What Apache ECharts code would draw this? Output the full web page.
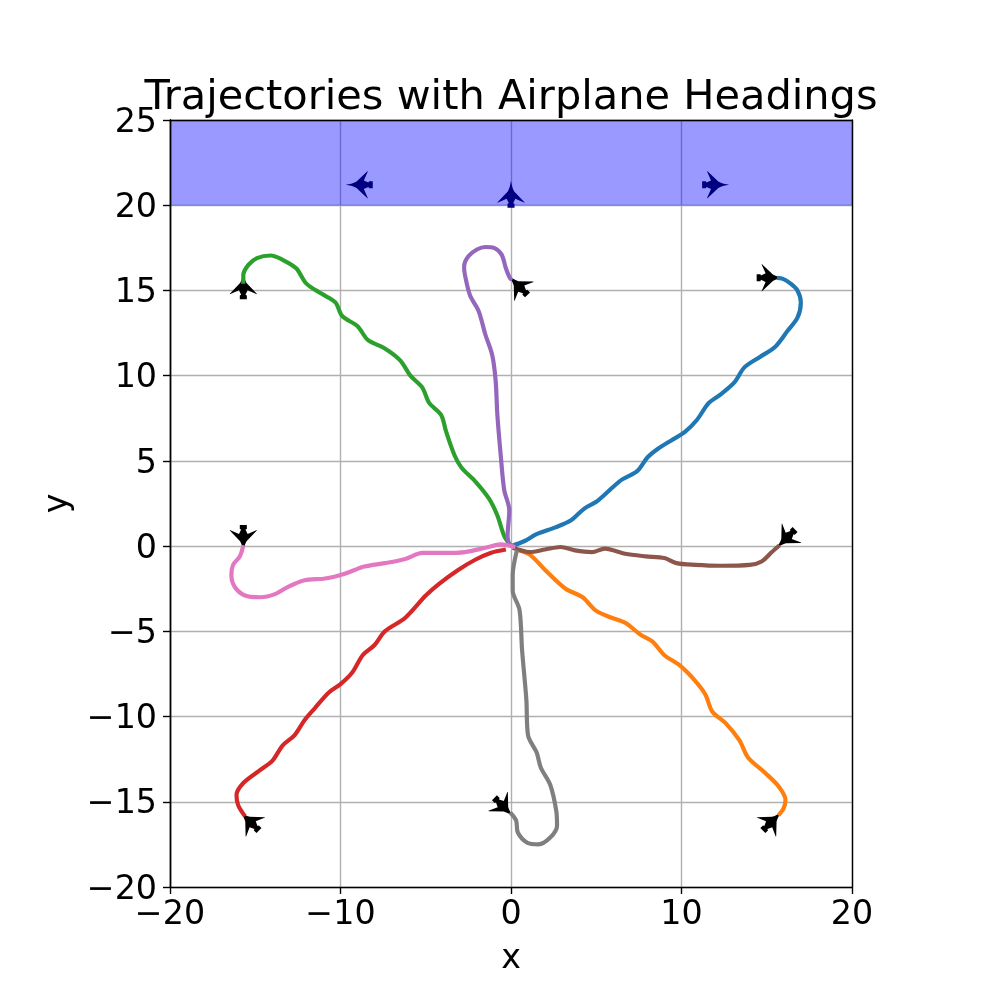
<!DOCTYPE html>
<html><head><meta charset="utf-8">
<style>html,body{margin:0;padding:0;background:#fff}#c{width:997px;height:997px}</style>
<script src="https://cdn.jsdelivr.net/npm/echarts@6/dist/echarts.min.js"></script>
</head><body><div id="c"></div>
<script>
const xTicks = [-20,-10,0,10,20];
const yTicks = [-20,-15,-10,-5,0,5,10,15,20,25];
const band = [20, 25];
const blue = [[0,0],[0.8,0.3],[1.5,0.7],[2.6,1.1],[3.5,1.5],[4.3,2.2],[5.0,2.6],[5.8,3.3],[6.5,3.9],[7.4,4.4],[8.0,5.2],[8.6,5.7],[9.4,6.2],[10.2,6.7],[10.9,7.4],[11.6,8.4],[12.3,8.9],[13.1,9.6],[13.7,10.5],[14.6,11.1],[15.5,11.7],[16.2,12.6],[16.8,13.4],[17.0,14.3],[16.8,15.0],[16.4,15.4],[15.95,15.68],[15.6,15.74]];
const orange = [[0.3,-0.2],[1.1,-0.5],[2.0,-1.4],[3.2,-2.5],[4.2,-3.0],[5,-3.8],[5.9,-4.2],[6.7,-4.5],[7.6,-5.2],[8.3,-5.6],[9.0,-6.4],[9.9,-7.0],[10.8,-7.9],[11.4,-8.7],[11.8,-9.7],[12.6,-10.4],[13.4,-11.4],[13.9,-12.4],[14.9,-13.3],[15.7,-14.1],[16.1,-14.9],[15.98,-15.4],[15.68,-15.8]];
const green = [[0,0],[-0.4,0.6],[-0.8,1.8],[-1.3,2.8],[-2.1,3.8],[-2.9,4.6],[-3.3,5.3],[-3.8,6.7],[-4.1,7.7],[-4.8,8.4],[-5.2,9.3],[-5.9,10],[-6.5,10.9],[-7.4,11.6],[-8.4,12.1],[-9,12.9],[-9.9,13.5],[-10.3,14.3],[-11.1,14.8],[-12,15.4],[-12.6,16.3],[-13.4,16.8],[-14.1,17.05],[-14.9,16.9],[-15.4,16.5],[-15.7,15.9],[-15.7,15.4]];
const red = [[-0.3,-0.2],[-1.2,-0.4],[-2.1,-0.8],[-3.1,-1.4],[-4.2,-2.2],[-5,-2.9],[-6.2,-4.2],[-7.4,-5],[-8,-5.8],[-8.7,-6.4],[-9.3,-7.4],[-10,-8.1],[-10.7,-8.6],[-11.5,-9.5],[-12.1,-10.2],[-12.7,-11.1],[-13.4,-11.7],[-14,-12.6],[-14.8,-13.2],[-15.7,-13.9],[-16.1,-14.6],[-16,-15.2],[-15.6,-15.85]];
const purple = [[-0.1,0],[-0.2,0.6],[-0.1,2.1],[-0.4,3.3],[-0.6,5.3],[-0.8,7.7],[-0.9,9.7],[-1.1,11.2],[-1.5,12.4],[-1.9,13.8],[-2.4,14.7],[-2.7,15.9],[-2.75,16.4],[-2.5,17],[-2,17.4],[-1.5,17.55],[-1,17.5],[-0.55,17.1],[-0.3,16.3],[-0.1,15.8],[0.05,15.6]];
const brown = [[0.1,-0.1],[1.1,-0.35],[2,-0.2],[2.9,-0.05],[3.75,-0.25],[4.75,-0.35],[5.5,-0.15],[6.7,-0.45],[7.9,-0.6],[9,-0.7],[9.7,-1],[10.8,-1.1],[12.3,-1.15],[14,-1.1],[14.7,-0.9],[15.3,-0.35],[15.75,0.05]];
const pink = [[0.25,-0.05],[-0.6,0.1],[-1.5,-0.1],[-2.7,-0.35],[-3.9,-0.4],[-5.2,-0.4],[-6.2,-0.75],[-7.4,-1],[-8.6,-1.2],[-9.7,-1.6],[-10.9,-1.9],[-12.1,-2],[-13.1,-2.4],[-13.8,-2.8],[-14.7,-3],[-15.6,-2.9],[-16.2,-2.4],[-16.4,-1.7],[-16.3,-1.1],[-15.9,-0.6],[-15.7,0.05]];
const gray = [[0.35,-0.25],[0.1,-1.7],[0.1,-2.6],[0.5,-3.75],[0.65,-6.1],[0.9,-9],[1,-11.1],[1.5,-12.1],[1.75,-13],[2.3,-14],[2.65,-15.5],[2.7,-16.4],[2.3,-17.1],[1.6,-17.5],[0.95,-17.4],[0.4,-16.8],[0.3,-16.1],[-0.05,-15.62]];
const trajectories = [[blue,'#1f77b4'],[orange,'#ff7f0e'],[green,'#2ca02c'],[red,'#d62728'],[purple,'#9467bd'],[brown,'#8c564b'],[pink,'#e377c2'],[gray,'#7f7f7f']];
// [x, y, rotation in degrees counter-clockwise from nose-up]
const blackPlanes = [[15.2,15.75,-90],[15.33,-16.13,-45],[-15.7,15.28,0],[-15.34,-16.13,45],[0.41,15.3,45],[16.1,0.41,135],[-15.7,0.44,180],[-0.41,-15.33,225]];
const navyPlanes = [[-8.9,21.2,90],[0,20.65,0],[12.0,21.2,-90]];
const planePath = 'path://M50 0 C52 12 55 28 62 40 L100 80 L100 82 L66 67 L58 84 L63 86 L63 100 L37 100 L37 86 L42 84 L34 67 L0 82 L0 80 L38 40 C45 28 48 12 50 0 Z';
const font = 'DejaVu Sans';
const tickFmt = v => String(v).replace('-','\u2212');
const lineOnly = {onZero:false,lineStyle:{color:'#000',width:1.4}};
const none = {show:false};
const planeSeries = (data, color) => ({
  type:'scatter', data:data.map(p=>({value:[p[0],p[1]],symbolRotate:p[2]})),
  symbol:planePath, symbolSize:27, symbolKeepAspect:true, itemStyle:{color,opacity:1}, z:3, silent:true
});
const option = {
  animation:false,
  title:{text:'Trajectories with Airplane Headings',left:506,top:72,textAlign:'center',textStyle:{fontFamily:font,fontSize:41.5,fontWeight:'normal',color:'#000'}},
  grid:{left:170,right:145,top:120,bottom:110,containLabel:false},
  xAxis:[
   {type:'value',min:-20,max:20,interval:10,name:'x',nameLocation:'middle',nameGap:56,
    nameTextStyle:{fontFamily:font,fontSize:33.3,color:'#000'},
    axisLine:lineOnly,axisTick:{show:true,length:7,lineStyle:{color:'#000',width:1.4}},
    axisLabel:{fontFamily:font,fontSize:33.3,color:'#000',margin:12,formatter:tickFmt,hideOverlap:false,showMinLabel:true,showMaxLabel:true},
    splitLine:{show:true,lineStyle:{color:'#b0b0b0',width:1.4}}},
   {type:'value',position:'top',min:-20,max:20,interval:10,z:10,axisLine:lineOnly,axisTick:none,axisLabel:none,splitLine:none}
  ],
  yAxis:[
   {type:'value',min:-20,max:25,interval:5,name:'y',nameLocation:'middle',nameGap:95,nameRotate:90,
    nameTextStyle:{fontFamily:font,fontSize:33.3,color:'#000'},
    axisLine:lineOnly,axisTick:{show:true,length:7,lineStyle:{color:'#000',width:1.4}},
    axisLabel:{fontFamily:font,fontSize:33.3,color:'#000',margin:13,verticalAlign:'top',lineHeight:6,formatter:tickFmt,hideOverlap:false,showMinLabel:true,showMaxLabel:true},
    splitLine:{show:true,lineStyle:{color:'#b0b0b0',width:1.4}}},
   {type:'value',position:'left',min:-20,max:25,interval:5,z:10,axisLine:lineOnly,axisTick:none,axisLabel:none,splitLine:none},
   {type:'value',position:'right',min:-20,max:25,interval:5,z:10,axisLine:lineOnly,axisTick:none,axisLabel:none,splitLine:none}
  ],
  series:[
    {type:'line',data:[],silent:true,z:1,markArea:{silent:true,itemStyle:{color:'rgba(0,0,255,0.4)',borderColor:'rgba(0,0,255,0.15)',borderWidth:1},data:[[{xAxis:-20,yAxis:band[0]},{xAxis:20,yAxis:band[1]}]]}},
    planeSeries(blackPlanes,'#000'),
    planeSeries(navyPlanes,'#000080'),
    ...trajectories.map(([d,c])=>({type:'line',data:d,showSymbol:false,smooth:0.3,lineStyle:{color:c,width:4.17,cap:'butt'},z:4,silent:true}))
  ]
};
const chart = echarts.init(document.getElementById('c'),null,{renderer:'canvas'});
chart.setOption(option);
</script></body></html>
